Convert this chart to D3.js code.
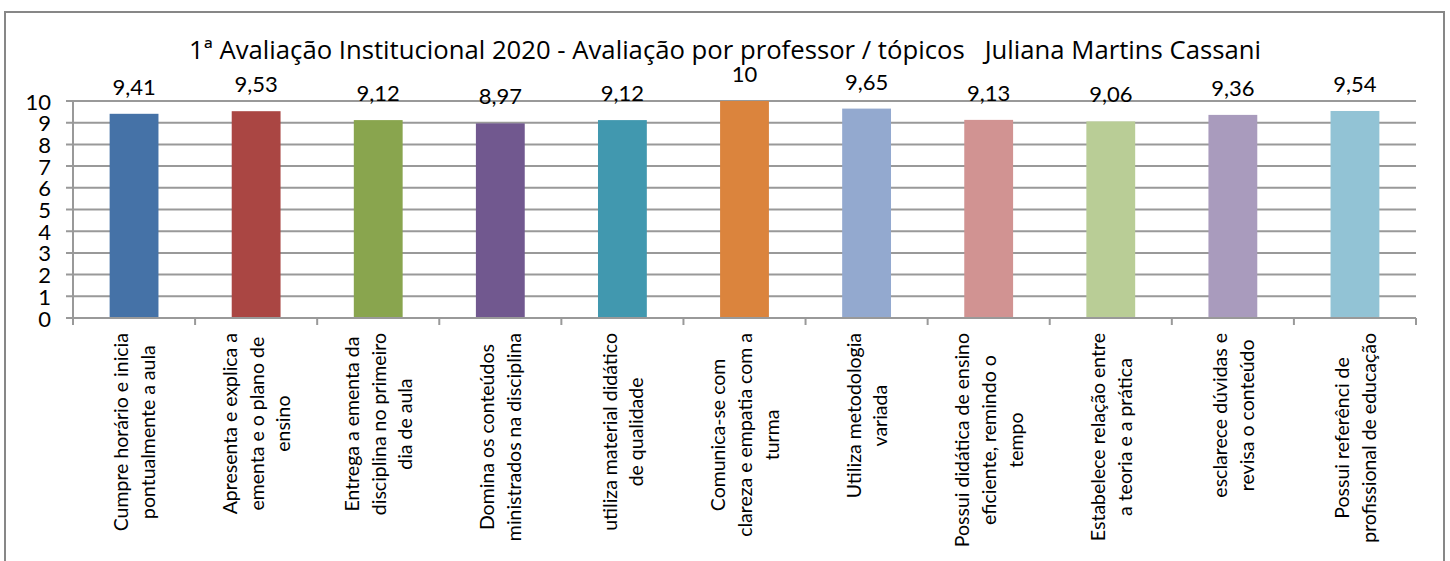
<!DOCTYPE html>
<html>
<head>
<meta charset="utf-8">
<script src="https://cdn.jsdelivr.net/npm/d3@7/dist/d3.min.js"></script>
<style>
  html, body { margin: 0; padding: 0; background: #fff; }
  svg { display: block; }
  text { font-family: Lato, "Open Sans", sans-serif; fill: #000; }
</style>
</head>
<body>
<svg id="chart" width="1450" height="561"></svg>
<script>
const title = "1ª Avaliação Institucional 2020 - Avaliação por professor / tópicos   Juliana Martins Cassani";
const categories = [
  "Cumpre horário e inicia\npontualmente a aula",
  "Apresenta e explica a\nementa e o plano de\nensino",
  "Entrega a ementa da\ndisciplina no primeiro\ndia de aula",
  "Domina os conteúdos\nministrados na disciplina",
  "utiliza material didático\nde qualidade",
  "Comunica-se com\nclareza e empatia com a\nturma",
  "Utiliza metodologia\nvariada",
  "Possui didática de ensino\neficiente, remindo o\ntempo",
  "Estabelece relação entre\na teoria e a prática",
  "esclarece dúvidas e\nrevisa o conteúdo",
  "Possui referênci de\nprofissional de educação"
];
const values = [9.41, 9.53, 9.12, 8.97, 9.12, 10, 9.65, 9.13, 9.06, 9.36, 9.54];
const colors = ["#4572A7", "#AA4643", "#89A54E", "#71588F", "#4198AF", "#DB843D",
                "#93A9CF", "#D19392", "#B9CD96", "#A99BBD", "#92C3D5"];
const yTicks = [0, 1, 2, 3, 4, 5, 6, 7, 8, 9, 10];

const svg = d3.select("#chart");
const plot = { left: 73, right: 1416, top: 101, bottom: 318 };
const gridColor = "#999999";

// outer frame
svg.append("rect")
  .attr("x", 5).attr("y", 12).attr("width", 1439).attr("height", 600)
  .attr("fill", "none").attr("stroke", "#878787").attr("stroke-width", 2);

const x = d3.scaleBand().domain(d3.range(categories.length))
  .range([plot.left, plot.right]).paddingInner(0.6).paddingOuter(0.3);
const xEdge = d3.scaleLinear().domain([0, categories.length]).range([plot.left, plot.right]);
const y = d3.scaleLinear().domain([0, 10]).range([plot.bottom, plot.top]);

// gridlines + y ticks
svg.append("g").selectAll("line").data(yTicks).join("line")
  .attr("x1", plot.left - 7).attr("x2", plot.right)
  .attr("y1", d => y(d)).attr("y2", d => y(d))
  .attr("stroke", gridColor).attr("stroke-width", 2);

// y axis line
svg.append("line")
  .attr("x1", plot.left).attr("x2", plot.left)
  .attr("y1", plot.top).attr("y2", plot.bottom)
  .attr("stroke", gridColor).attr("stroke-width", 2);

// y tick labels
svg.append("g").selectAll("text").data(yTicks).join("text")
  .attr("x", 51).attr("y", d => y(d))
  .attr("text-anchor", "end").attr("dominant-baseline", "central")
  .attr("font-size", 22)
  .text(d => d);

// bars
svg.append("g").selectAll("rect").data(values).join("rect")
  .attr("x", (d, i) => x(i)).attr("width", x.bandwidth())
  .attr("y", d => y(d)).attr("height", d => y(0) - y(d))
  .attr("fill", (d, i) => colors[i]);

// x axis line and ticks
svg.append("line")
  .attr("x1", plot.left).attr("x2", plot.right)
  .attr("y1", plot.bottom).attr("y2", plot.bottom)
  .attr("stroke", gridColor).attr("stroke-width", 2);
svg.append("g").selectAll("line").data(d3.range(categories.length + 1)).join("line")
  .attr("x1", d => xEdge(d)).attr("x2", d => xEdge(d))
  .attr("y1", plot.bottom).attr("y2", plot.bottom + 7)
  .attr("stroke", gridColor).attr("stroke-width", 2);

// value labels
svg.append("g").selectAll("text").data(values).join("text")
  .attr("x", (d, i) => x(i) + x.bandwidth() / 2)
  .attr("y", d => y(d) - 19)
  .attr("text-anchor", "middle")
  .attr("font-size", 22)
  .text(d => String(d).replace(".", ","));

// category labels (rotated, centered lines)
const lineGap = 26.7;
const labelTop = 333;
const labelFont = 19.5;
categories.forEach((c, i) => {
  const lines = c.split("\n");
  const cx = xEdge(i + 0.5);
  const g = svg.append("g");
  const texts = lines.map((ln, j) => g.append("text")
    .attr("font-size", labelFont)
    .attr("text-anchor", "middle")
    .attr("dominant-baseline", "central")
    .text(ln));
  const maxW = d3.max(texts, t => t.node().getComputedTextLength());
  texts.forEach((t, j) => {
    const lx = cx + (j - (lines.length - 1) / 2) * lineGap;
    const ly = labelTop + maxW / 2;
    t.attr("transform", `translate(${lx},${ly}) rotate(-90)`);
  });
});

// title
svg.append("text")
  .attr("x", 725).attr("y", 59)
  .attr("text-anchor", "middle")
  .attr("font-size", 25.7)
  .style("font-family", "'Open Sans', sans-serif")
  .style("white-space", "pre")
  .attr("xml:space", "preserve")
  .text(title);
</script>
</body>
</html>
